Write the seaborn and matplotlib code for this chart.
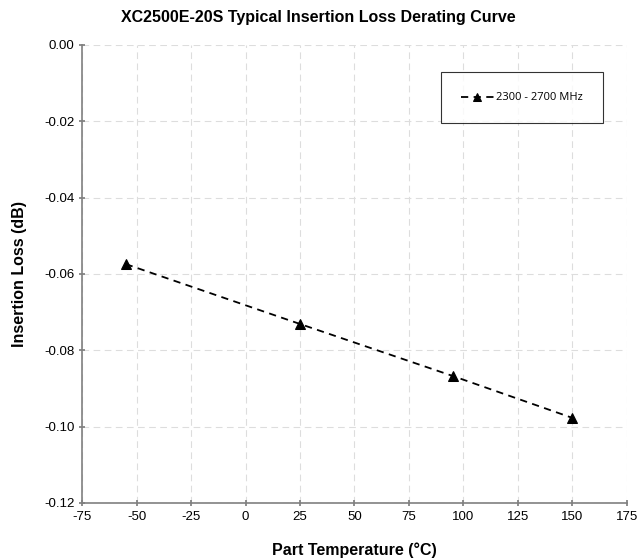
import matplotlib
matplotlib.use("Agg")
import matplotlib.pyplot as plt
import seaborn as sns
import pandas as pd

temps = [-55, 25, 95, 150]
loss = [-0.0574, -0.0731, -0.0867, -0.0977]
series_name = "2300 - 2700 MHz"
x_ticks = [-75, -50, -25, 0, 25, 50, 75, 100, 125, 150, 175]
y_ticks = [0.00, -0.02, -0.04, -0.06, -0.08, -0.10, -0.12]

sns.set_theme(style="white")
plt.rcParams['font.family'] = ['Liberation Sans', 'DejaVu Sans']
plt.rcParams['text.color'] = 'black'
plt.rcParams['axes.labelcolor'] = 'black'

df = pd.DataFrame({"Temp": temps, "Loss": loss, "Series": series_name})

fig = plt.figure(figsize=(6.37, 5.59), dpi=100)
ax = fig.add_axes([0.129, 0.1002, 0.855, 0.8193])

sns.lineplot(data=df, x="Temp", y="Loss", ax=ax, color="black", linestyle=(0, (4, 3)),
             linewidth=1.3, marker="^", markersize=7.5, markeredgecolor="black",
             label=series_name)

ax.set_xlim(-75, 175)
ax.set_ylim(-0.12, 0.0)
ax.set_xticks(x_ticks)
ax.set_yticks(y_ticks)
ax.set_xticklabels([str(t) for t in x_ticks], fontsize=9.5)
ax.set_yticklabels([f"{t:.2f}" for t in y_ticks], fontsize=9.5)
ax.grid(True, color="#dddddd", linestyle=(0, (6, 4)), linewidth=0.8)
for s in ["top", "right"]:
    ax.spines[s].set_visible(False)
for s in ["left", "bottom"]:
    ax.spines[s].set_color("#808080")
    ax.spines[s].set_linewidth(1.2)
ax.tick_params(axis="both", which="both", direction="inout", length=5, color="#808080",
               left=True, bottom=True, labelcolor="black", pad=3)

ax.set_xlabel("Part Temperature (°C)", fontsize=11.5, fontweight="bold", labelpad=14)
ax.set_ylabel("Insertion Loss (dB)", fontsize=11.5, fontweight="bold", labelpad=12)
fig.suptitle("XC2500E-20S Typical Insertion Loss Derating Curve", x=0.5, y=0.982,
             fontsize=11.5, fontweight="bold")

leg = ax.legend(loc="upper left", bbox_to_anchor=(0.658, 0.94), frameon=True, fancybox=False,
                edgecolor="black", handlelength=3.0, borderpad=1.8, handletextpad=0.2,
                markerscale=0.7, borderaxespad=0,
                prop={'family': ['Open Sans', 'DejaVu Sans'], 'size': 8})
leg.get_frame().set_linewidth(0.8)

fig.savefig("out.png", dpi=100)
